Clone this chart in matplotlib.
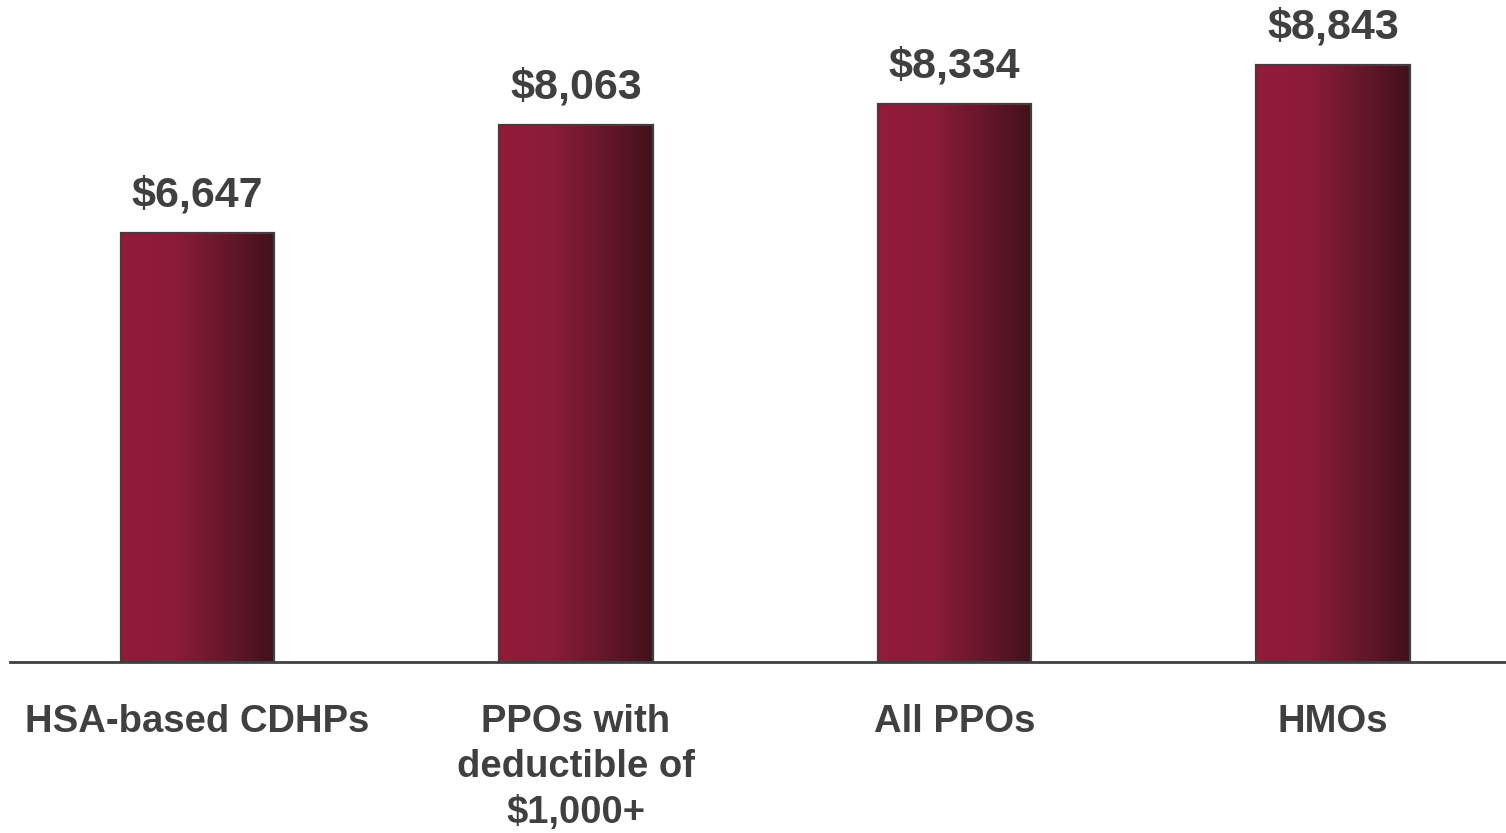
import numpy as np
import matplotlib
matplotlib.use("Agg")
import matplotlib.pyplot as plt
from matplotlib.colors import LinearSegmentedColormap

# ---- Data ----
categories = ["HSA-based CDHPs", "PPOs with\ndeductible of\n$1,000+", "All PPOs", "HMOs"]
values = [6647, 8063, 8334, 8843]
value_labels = ["$6,647", "$8,063", "$8,334", "$8,843"]

TEXT = "#404040"
plt.rcParams["font.family"] = ["Liberation Sans", "DejaVu Sans"]
plt.rcParams["font.weight"] = "bold"

grad = LinearSegmentedColormap.from_list(
    "bar_grad", [(0.0, "#921B3A"), (0.35, "#8B1C37"), (0.7, "#65162A"), (1.0, "#43101C")])

fig = plt.figure(figsize=(15.06, 8.33), dpi=100)
ax = fig.add_axes([10 / 1506, (833 - 662) / 833, 1 - 10 / 1506, 662 / 833])

x = np.arange(len(categories))
width = 0.405
ymin, ymax = 1040, 1040 + 662 * 13.07

bars = ax.bar(x, values, width=width, facecolor="none", edgecolor="#3f3f3f",
              linewidth=1.6, zorder=3)

# horizontal gradient fill, clipped to each bar
g = np.linspace(0, 1, 256).reshape(1, -1)
for b in bars:
    x0 = b.get_x()
    im = ax.imshow(g, cmap=grad, aspect="auto", zorder=2,
                   extent=[x0, x0 + b.get_width(), ymin, b.get_height()])
    im.set_clip_path(b)

for xi, v, lab in zip(x, values, value_labels):
    ax.annotate(lab, (xi, v), xytext=(0, 12.5), textcoords="offset points",
                ha="center", va="bottom", fontsize=31, fontweight="bold", color=TEXT)

ax.set_xlim(-0.495, 3.457)
ax.set_ylim(ymin, ymax)
ax.set_yticks([])
ax.set_xticks(x)
ax.set_xticklabels(categories, fontsize=27.5, fontweight="bold", color=TEXT, linespacing=1.35)
ax.tick_params(axis="x", length=0, pad=30)
for s in ["top", "right", "left"]:
    ax.spines[s].set_visible(False)
ax.spines["bottom"].set_color("#404040")
ax.spines["bottom"].set_linewidth(2)
ax.spines["bottom"].set_zorder(4)

fig.savefig("out.png", dpi=100)
